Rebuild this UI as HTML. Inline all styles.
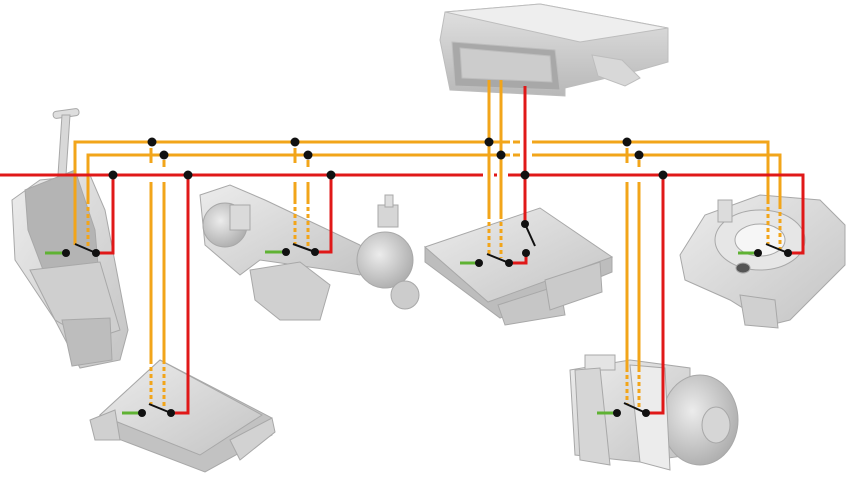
<!DOCTYPE html>
<html><head><meta charset="utf-8"><style>
html,body{margin:0;padding:0;background:#fff;}
svg{display:block}
</style></head><body>
<svg width="856" height="482" viewBox="0 0 856 482" xmlns="http://www.w3.org/2000/svg">
<defs>
<linearGradient id="g1" x1="0" y1="0" x2="1" y2="1"><stop offset="0" stop-color="#ececec"/><stop offset="1" stop-color="#c4c4c4"/></linearGradient>
<linearGradient id="g2" x1="0" y1="0" x2="0" y2="1"><stop offset="0" stop-color="#e2e2e2"/><stop offset="1" stop-color="#b8b8b8"/></linearGradient>
<radialGradient id="g3" cx="0.4" cy="0.4" r="0.7"><stop offset="0" stop-color="#ececec"/><stop offset="1" stop-color="#a8a8a8"/></radialGradient>
</defs>

<!-- Top ECU -->
<g stroke="#bdbdbd" stroke-width="1">
<polygon points="445,12 540,4 668,28 668,62 640,70 565,88 565,96 450,90 440,40" fill="url(#g2)"/>
<polygon points="445,12 540,4 668,28 580,42" fill="#eeeeee"/>
<polygon points="592,55 622,60 640,78 625,86 598,76" fill="#d8d8d8"/>
<polygon points="452,42 555,50 560,90 455,86" fill="#a8a8a8"/>
<polygon points="460,48 550,56 552,82 462,78" fill="#cccccc"/>
</g>

<!-- Gear shift (left) -->
<g stroke="#a8a8a8" stroke-width="1">
<rect x="53" y="110" width="26" height="7" rx="3" fill="#dedede" transform="rotate(-8 66 113)"/>
<polygon points="62,115 70,115 66,175 58,175" fill="#d8d8d8"/>
<polygon points="12,200 40,180 90,175 105,210 128,330 120,360 80,368 55,320 15,260" fill="url(#g1)"/>
<polygon points="25,190 75,170 95,230 98,265 45,275 28,230" fill="#b4b4b4"/>
<polygon points="30,270 100,262 120,330 90,340 55,320" fill="#cfcfcf"/>
<polygon points="62,320 110,318 112,360 72,366" fill="#bdbdbd"/>
</g>

<!-- Steering rack -->
<g stroke="#a8a8a8" stroke-width="1">
<polygon points="200,195 230,185 265,200 360,245 370,262 360,275 330,270 260,260 240,275 205,245" fill="url(#g1)"/>
<polygon points="250,270 300,262 330,285 320,320 280,320 255,300" fill="#d0d0d0"/>
<circle cx="225" cy="225" r="22" fill="url(#g3)"/>
<circle cx="385" cy="260" r="28" fill="url(#g3)"/>
<rect x="378" y="205" width="20" height="22" fill="#d6d6d6"/>
<rect x="385" y="195" width="8" height="12" fill="#dedede"/>
<circle cx="405" cy="295" r="14" fill="#cccccc"/>
<rect x="230" y="205" width="20" height="25" fill="#dadada"/>
</g>

<!-- Center ECU -->
<g stroke="#a8a8a8" stroke-width="1">
<polygon points="488,300 612,257 612,272 500,318 425,262 425,247" fill="#bdbdbd"/>
<polygon points="425,247 540,208 612,257 488,302" fill="url(#g1)"/>
<polygon points="498,305 560,285 565,315 505,325" fill="#c6c6c6"/>
<polygon points="545,280 600,262 602,292 550,310" fill="#cacaca"/>
</g>

<!-- Right sensor -->
<g stroke="#a8a8a8" stroke-width="1">
<polygon points="680,255 705,215 760,195 820,200 845,225 845,265 820,290 790,320 770,325 730,300 685,280" fill="url(#g1)"/>
<ellipse cx="760" cy="240" rx="45" ry="30" fill="#e6e6e6"/>
<ellipse cx="760" cy="240" rx="25" ry="16" fill="#f6f6f6"/>
<rect x="718" y="200" width="14" height="22" fill="#dcdcdc"/>
<polygon points="740,295 775,300 778,328 745,325" fill="#d0d0d0"/>
<ellipse cx="743" cy="268" rx="7" ry="5" fill="#555"/>
</g>

<!-- Bottom-left ECU -->
<g stroke="#a8a8a8" stroke-width="1">
<polygon points="100,415 160,360 272,418 272,435 205,472 95,430" fill="#c2c2c2"/>
<polygon points="100,415 160,360 262,415 200,455" fill="url(#g1)"/>
<polygon points="90,420 115,410 120,440 95,440" fill="#d0d0d0"/>
<polygon points="230,440 272,418 275,432 240,460" fill="#d2d2d2"/>
</g>

<!-- ABS -->
<g stroke="#a8a8a8" stroke-width="1">
<polygon points="570,370 630,360 690,368 690,455 640,462 575,455" fill="url(#g1)"/>
<rect x="585" y="355" width="30" height="15" fill="#e4e4e4"/>
<polygon points="575,370 600,368 610,465 580,460" fill="#d6d6d6"/>
<ellipse cx="700" cy="420" rx="38" ry="45" fill="url(#g3)"/>
<ellipse cx="716" cy="425" rx="14" ry="18" fill="#d6d6d6"/>
<polygon points="630,365 665,368 670,470 640,462" fill="#ececec"/>
</g>

<!-- Bus wiring -->
<g fill="none" stroke-width="3">
<polyline stroke="#f2a51a" points="75,245 75,142 510,142"/>
<polyline stroke="#f2a51a" points="532,142 768,142 768,200"/>
<line stroke="#f2a51a" x1="513" y1="142" x2="520" y2="142"/>
<polyline stroke="#f2a51a" points="88,200 88,155 510,155"/>
<polyline stroke="#f2a51a" points="532,155 780,155 780,205"/>
<line stroke="#f2a51a" x1="513" y1="155" x2="520" y2="155"/>
<polyline stroke="#e01818" points="0,175 483,175"/>
<line stroke="#e01818" x1="494" y1="175" x2="497" y2="175"/>
<polyline stroke="#e01818" points="508,175 803,175 803,253 788,253"/>
</g>

<g fill="none" stroke="#f2a51a" stroke-width="3" stroke-dasharray="4,3">
<line x1="75" y1="180" x2="75" y2="245"/>
<line x1="88" y1="200" x2="88" y2="250"/>
<line x1="295" y1="200" x2="295" y2="244"/>
<line x1="308" y1="200" x2="308" y2="246"/>
<line x1="489" y1="215" x2="489" y2="254"/>
<line x1="501" y1="215" x2="501" y2="258"/>
<line x1="768" y1="200" x2="768" y2="244"/>
<line x1="780" y1="205" x2="780" y2="250"/>
<line x1="151" y1="360" x2="151" y2="404"/>
<line x1="164" y1="360" x2="164" y2="408"/>
<line x1="627" y1="368" x2="627" y2="404"/>
<line x1="639" y1="368" x2="639" y2="408"/>
</g>

<g fill="none" stroke-width="3">
<line stroke="#f2a51a" x1="151" y1="148" x2="151" y2="163"/>
<line stroke="#f2a51a" x1="164" y1="160" x2="164" y2="167"/>
<line stroke="#f2a51a" x1="151" y1="182" x2="151" y2="360"/>
<line stroke="#f2a51a" x1="164" y1="182" x2="164" y2="360"/>
<polyline stroke="#e01818" points="188,175 188,413 171,413"/>
<polyline stroke="#e01818" points="113,175 113,253 96,253"/>
<line stroke="#f2a51a" x1="295" y1="148" x2="295" y2="163"/>
<line stroke="#f2a51a" x1="308" y1="160" x2="308" y2="167"/>
<line stroke="#f2a51a" x1="295" y1="182" x2="295" y2="200"/>
<line stroke="#f2a51a" x1="308" y1="182" x2="308" y2="200"/>
<polyline stroke="#e01818" points="331,175 331,252 315,252"/>
<line stroke="#f2a51a" x1="489" y1="80" x2="489" y2="215"/>
<line stroke="#f2a51a" x1="501" y1="80" x2="501" y2="215"/>
<line stroke="#e01818" x1="525" y1="86" x2="525" y2="224"/>
<polyline stroke="#e01818" points="526,253 526,263 509,263"/>
<line stroke="#f2a51a" x1="627" y1="148" x2="627" y2="163"/>
<line stroke="#f2a51a" x1="639" y1="160" x2="639" y2="167"/>
<line stroke="#f2a51a" x1="627" y1="182" x2="627" y2="368"/>
<line stroke="#f2a51a" x1="639" y1="182" x2="639" y2="368"/>
<polyline stroke="#e01818" points="663,175 663,413 646,413"/>
</g>

<g fill="none" stroke-width="3">
<line stroke="#5fb233" x1="45" y1="253" x2="64" y2="253"/>
<line stroke="#5fb233" x1="265" y1="252" x2="284" y2="252"/>
<line stroke="#5fb233" x1="460" y1="263" x2="478" y2="263"/>
<line stroke="#5fb233" x1="738" y1="253" x2="756" y2="253"/>
<line stroke="#5fb233" x1="122" y1="413" x2="140" y2="413"/>
<line stroke="#5fb233" x1="597" y1="413" x2="615" y2="413"/>
</g>
<g fill="none" stroke="#111" stroke-width="2">
<line x1="75" y1="244" x2="96" y2="253"/>
<line x1="293" y1="244" x2="315" y2="252"/>
<line x1="487" y1="254" x2="509" y2="263"/>
<line x1="525" y1="224" x2="535" y2="246"/>
<line x1="766" y1="244" x2="788" y2="253"/>
<line x1="149" y1="404" x2="171" y2="413"/>
<line x1="624" y1="403" x2="646" y2="413"/>
</g>

<g fill="#111">
<circle cx="152" cy="142" r="4.5"/><circle cx="295" cy="142" r="4.5"/><circle cx="489" cy="142" r="4.5"/><circle cx="627" cy="142" r="4.5"/>
<circle cx="164" cy="155" r="4.5"/><circle cx="308" cy="155" r="4.5"/><circle cx="501" cy="155" r="4.5"/><circle cx="639" cy="155" r="4.5"/>
<circle cx="113" cy="175" r="4.5"/><circle cx="188" cy="175" r="4.5"/><circle cx="331" cy="175" r="4.5"/><circle cx="525" cy="175" r="4.5"/><circle cx="663" cy="175" r="4.5"/>
<circle cx="66" cy="253" r="4"/><circle cx="96" cy="253" r="4"/>
<circle cx="286" cy="252" r="4"/><circle cx="315" cy="252" r="4"/>
<circle cx="479" cy="263" r="4"/><circle cx="509" cy="263" r="4"/><circle cx="525" cy="224" r="4"/><circle cx="526" cy="253" r="4"/>
<circle cx="758" cy="253" r="4"/><circle cx="788" cy="253" r="4"/>
<circle cx="142" cy="413" r="4"/><circle cx="171" cy="413" r="4"/>
<circle cx="617" cy="413" r="4"/><circle cx="646" cy="413" r="4"/>
</g>
</svg>
</body></html>
